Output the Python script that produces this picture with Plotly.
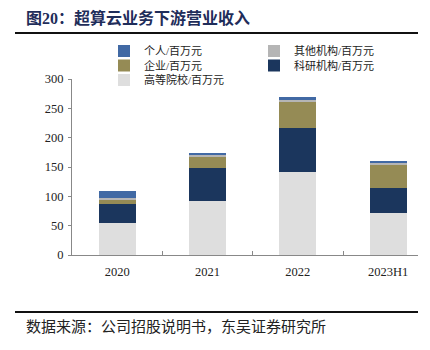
import plotly.graph_objects as go

categories = ["2020", "2021", "2022", "2023H1"]
edu = [54, 92, 141, 72]          # 高等院校
research = [33, 57, 75, 43]      # 科研机构
enterprise = [8, 19, 46, 38]     # 企业
other = [1.5, 2, 3, 4]           # 其他机构
personal = [12.5, 3.5, 4, 3]     # 个人

W, H = 430, 350
L, R, T, B = 72, 12, 79, 95
PW, PH = W - L - R, H - T - B

def px_x(x):
    return (x - L) / PW

def px_y(y):
    return (H - B - y) / PH

serif = "Liberation Serif, Times New Roman, serif"
cjk = "Liberation Serif, Noto Sans CJK SC, serif"

fig = go.Figure()
series = [
    ("高等院校/百万元", edu, "#DEDEDE", "legend5", 104, 80),
    ("科研机构/百万元", research, "#1B365D", "legend4", 254, 65.5),
    ("企业/百万元", enterprise, "#958B55", "legend3", 104, 65.5),
    ("其他机构/百万元", other, "#B5B5B5", "legend2", 254, 51),
    ("个人/百万元", personal, "#4169A4", "legend", 104, 51),
]
legends = {}
for name, vals, color, lg, lx, ly in series:
    fig.add_trace(go.Bar(x=categories, y=vals, name=name, marker_color=color,
                         marker_line_width=0, width=0.41, legend=lg))
    legends[lg] = dict(x=px_x(lx), y=px_y(ly), xanchor="left", yanchor="middle",
                       bgcolor="rgba(0,0,0,0)", itemwidth=30,
                       font=dict(family=cjk, size=11, color="#222"))

fig.update_layout(
    width=W, height=H, margin=dict(l=L, r=R, t=T, b=B),
    barmode="stack", plot_bgcolor="white", paper_bgcolor="white",
    font=dict(family=cjk, size=12, color="#222"),
    xaxis=dict(range=[-0.5, 3.33], showline=True, linecolor="#888", linewidth=1,
               ticks="inside", ticklen=4, tickcolor="#888", tickson="boundaries",
               ticklabelstandoff=5,
               tickfont=dict(family=serif, size=12.5, color="#222")),
    yaxis=dict(range=[0, 300], tickvals=[0, 50, 100, 150, 200, 250, 300],
               showline=True, linecolor="#888", linewidth=1, showgrid=False,
               ticks="outside", ticklen=3, tickcolor="#888", zeroline=False,
               ticklabelstandoff=2,
               tickfont=dict(family=serif, size=12.5, color="#222")),
    showlegend=True,
    **legends,
)

fig.add_annotation(text="<b>图20：超算云业务下游营业收入</b>", xref="paper", yref="paper",
                   x=px_x(24), y=px_y(18), xanchor="left", yanchor="middle",
                   showarrow=False, font=dict(family=cjk, size=16, color="#1F2D5A"))
fig.add_annotation(text="数据来源：公司招股说明书，东吴证券研究所", xref="paper", yref="paper",
                   x=px_x(24), y=px_y(327), xanchor="left", yanchor="middle",
                   showarrow=False, font=dict(family=cjk, size=15, color="#222"))
fig.add_shape(type="line", xref="paper", yref="paper", x0=px_x(15), x1=px_x(418),
              y0=px_y(33), y1=px_y(33), line=dict(color="#111", width=2))
fig.add_shape(type="line", xref="paper", yref="paper", x0=px_x(15), x1=px_x(418),
              y0=px_y(312), y1=px_y(312), line=dict(color="#111", width=2))

fig.write_html("out.html")
